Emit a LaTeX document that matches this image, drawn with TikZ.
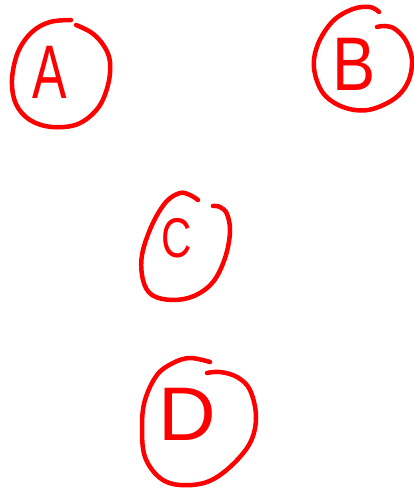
\documentclass[tikz,border=0pt]{standalone}
\usepackage{fontspec}
\setmainfont{Liberation Sans}
\begin{document}
\begin{tikzpicture}[x=1pt,y=-1pt,
  ring/.style={draw=red, line width=4.5pt, line cap=round, line join=round},
  lbl/.style={text=red, inner sep=0pt, anchor=center, font=\fontsize{76}{76}\selectfont}]
\useasboundingbox (0,0) rectangle (413,489);
% circle A
\draw[ring] plot[smooth, tension=0.6] coordinates {(76,25) (92,33) (104,46) (110,62) (108,85) (98,108) (78,124) (52,127) (30,120) (16,104) (12,80) (18,52) (32,32) (50,22) (71,20)};
% circle B
\draw[ring] plot[smooth, tension=0.6] coordinates {(377,27) (385,26) (395,29) (406,41) (412,60) (408,82) (394,99) (368,110) (343,107) (323,93) (314,68) (318,44) (333,21) (353,9) (370,7) (379,12)};
% circle C
\draw[ring] plot[smooth, tension=0.6] coordinates {(198,200) (190,195) (180,193) (166,202) (152,225) (142,255) (143,280) (152,295) (172,300) (194,296) (213,282) (225,258) (230,232) (227,214) (220,207) (213,206)};
% circle D
\draw[ring] plot[smooth, tension=0.6] coordinates {(210,362) (190,358) (173,363) (157,375) (145,400) (142,427) (145,457) (160,478) (180,485) (207,482) (230,467) (250,443) (256,417) (250,390) (237,377) (220,372) (207,373)};
% letters
\node[lbl] (a) at (50,72) {\scalebox{0.68}[1]{A}};
\node[lbl] (b) at (354,64) {\scalebox{0.85}[1]{B}};
\node[lbl, font=\fontsize{56}{56}\selectfont] (c) at (177,238) {\scalebox{0.75}[1]{C}};
\node[lbl] (d) at (187,414) {\scalebox{1.05}[1]{D}};
\end{tikzpicture}
\end{document}
